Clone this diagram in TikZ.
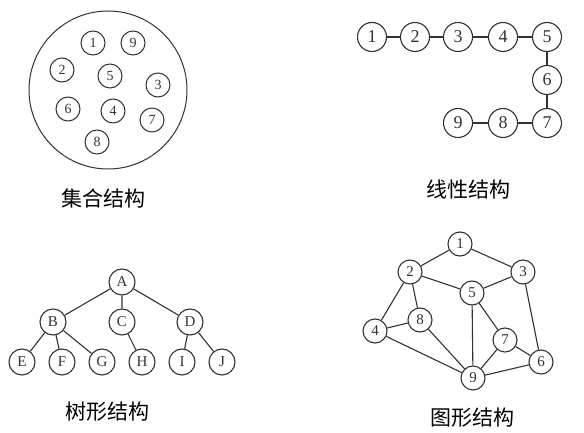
\documentclass[tikz,border=0pt]{standalone}
\usepackage{fontspec}
\setmainfont{Liberation Serif}
\newfontfamily\cjk{Noto Sans CJK SC}
\definecolor{ink}{HTML}{333333}
\begin{document}
\begin{tikzpicture}[x=1pt,y=-1pt,
  every path/.style={draw=ink,line width=1.1pt},
  sn/.style={circle,draw=ink,line width=1pt,minimum size=24pt,inner sep=0pt,font=\fontsize{14}{14}\selectfont,text=ink},
  ln/.style={circle,draw=ink,line width=1.1pt,minimum size=29pt,inner sep=0pt,font=\fontsize{18}{18}\selectfont,text=ink},
  tn/.style={circle,draw=ink,line width=1.1pt,minimum size=26pt,inner sep=0pt,font=\fontsize{15}{15}\selectfont,text=ink},
  gn/.style={circle,draw=ink,line width=1.1pt,minimum size=24pt,inner sep=0pt,font=\fontsize{15}{15}\selectfont,text=ink},
  lbl/.style={font=\cjk\fontsize{21}{24}\selectfont,text=black}]
\useasboundingbox[fill=white,draw=none] (0,0) rectangle (584,433);
% set structure
\node[circle,draw=ink,line width=1pt,minimum size=158pt,inner sep=0pt] (S) at (108,90) {};
\node[sn] (s1) at (93,43) {1};
\node[sn] (s9) at (133,43) {9};
\node[sn] (s2) at (62,70) {2};
\node[sn] (s5) at (110,76) {5};
\node[sn] (s3) at (158,85) {3};
\node[sn] (s6) at (68,109) {6};
\node[sn] (s4) at (113,111) {4};
\node[sn] (s7) at (152,120) {7};
\node[sn] (s8) at (97,142) {8};
\node[lbl] (c1) at (103,198) {集合结构};
% linear
\node[ln] (l1) at (372,37) {1};
\node[ln] (l2) at (415,37) {2};
\node[ln] (l3) at (458,37) {3};
\node[ln] (l4) at (503,37) {4};
\node[ln] (l5) at (547,37) {5};
\node[ln] (l6) at (547,80) {6};
\node[ln] (l7) at (547,123) {7};
\node[ln] (l8) at (503,123) {8};
\node[ln] (l9) at (458,123) {9};
\draw (l1)--(l2) (l2)--(l3) (l3)--(l4) (l4)--(l5) (l5)--(l6) (l6)--(l7) (l7)--(l8) (l8)--(l9);
\node[lbl] (c2) at (468,190) {线性结构};
% tree
\node[tn] (A) at (122,282) {A};
\node[tn] (B) at (53,322) {B};
\node[tn] (C) at (122,322) {C};
\node[tn] (D) at (190,322) {D};
\node[tn] (E) at (22,362) {E};
\node[tn] (F) at (62,362) {F};
\node[tn] (G) at (102,362) {G};
\node[tn] (H) at (142,362) {H};
\node[tn] (I) at (182,362) {I};
\node[tn] (J) at (222,362) {J};
\draw (A)--(B) (A)--(C) (A)--(D) (B)--(E) (B)--(F) (B)--(G) (C)--(H) (D)--(I) (D)--(J);
\node[lbl] (c3) at (107,412) {树形结构};
% graph
\node[gn] (g1) at (460,244) {1};
\node[gn] (g2) at (410,272) {2};
\node[gn] (g3) at (523,272) {3};
\node[gn] (g5) at (472,293) {5};
\node[gn] (g8) at (420,320) {8};
\node[gn] (g4) at (375,331) {4};
\node[gn] (g7) at (505,340) {7};
\node[gn] (g6) at (541,362) {6};
\node[gn] (g9) at (473,378) {9};
\draw (g1)--(g2) (g1)--(g3) (g2)--(g5) (g3)--(g5) (g2)--(g4) (g2)--(g8) (g4)--(g8)
      (g4)--(g9) (g8)--(g9) (g5)--(g9) (g5)--(g7) (g7)--(g9) (g7)--(g6) (g3)--(g6) (g9)--(g6);
\node[lbl] (c4) at (472,418) {图形结构};
\end{tikzpicture}
\end{document}
